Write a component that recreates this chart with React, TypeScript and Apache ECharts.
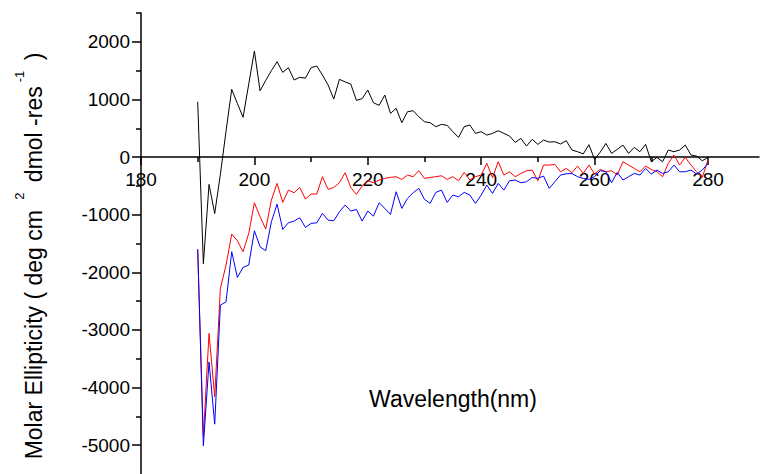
import { useEffect, useRef } from "react";
import * as echarts from "echarts";

// CD spectra sampled every 1 nm from 190 to 280 nm
const wavelengths: number[] = Array.from({ length: 91 }, (_, i) => 190 + i);

const blackTrace = [
  960, -1850, -475, -980, -300, 450, 1175, 930, 690, 1265,
  1840, 1150, 1330, 1500, 1655, 1470, 1550, 1337, 1383, 1370,
  1550, 1580, 1424, 1250, 1007, 1349, 1304, 1267, 984, 1013,
  1163, 943, 897, 1076, 758, 845, 596, 787, 804, 700,
  613, 596, 527, 567, 550, 440, 341, 527, 556, 411,
  440, 382, 411, 457, 411, 365, 255, 324, 191, 307,
  220, 295, 260, 266, 226, 284, 122, 93, 55, 215,
  -40, 85, 237, 64, 133, 208, 64, 168, 93, 220,
  -81, -6, -81, 122, 93, 122, 208, 35, 17, -64,
  -6,
];

const redTrace = [
  -1600, -4850, -3060, -4160, -2280, -1875, -1337, -1452, -1643, -1325,
  -793, -1036, -1250, -747, -457, -787, -573, -619, -527, -729,
  -642, -642, -341, -561, -527, -446, -272, -527, -648, -503,
  -411, -446, -399, -370, -353, -341, -388, -312, -341, -237,
  -370, -353, -341, -324, -388, -341, -411, -266, -399, -341,
  -312, -110, -359, -81, -312, -255, -341, -284, -237, -226,
  -411, -139, -139, -127, -255, -197, -272, -156, -284, -139,
  -295, -214, -255, -237, -312, -81, -139, -197, -255, -156,
  -214, -255, -341, -110, 35, -139, -6, -139, -255, -353,
  -52,
];

const blueTrace = [
  -1603, -5010, -3554, -4635, -2570, -2512, -1643, -2089, -1915, -1875,
  -1279, -1557, -1626, -1123, -816, -1256, -1140, -1111, -1053, -1221,
  -1152, -1140, -978, -1094, -1105, -949, -833, -937, -909, -1111,
  -937, -1024, -793, -891, -995, -602, -891, -718, -619, -544,
  -735, -804, -613, -573, -787, -660, -689, -613, -660, -804,
  -660, -486, -631, -457, -573, -411, -399, -446, -428, -353,
  -370, -330, -544, -428, -312, -290, -284, -341, -370, -388,
  -341, -237, -255, -446, -266, -399, -341, -284, -312, -197,
  -295, -226, -284, -255, -139, -255, -255, -226, -295, -226,
  -110,
];

const xMajorTicks = [180, 200, 220, 240, 260, 280];
const xMinorTicks = [190, 210, 230, 250, 270];
const yMajorTicks = [-5000, -4000, -3000, -2000, -1000, 0, 1000, 2000];
const yMinorTicks = [-4500, -3500, -2500, -1500, -500, 500, 1500, 2500];

const X_MIN = 180;
const X_MAX = 289;
const Y_MIN = -5500;
const Y_MAX = 2500;

const WIDTH = 760;
const HEIGHT = 474;
const GRID_LEFT = 141;
const GRID_TOP = 13;

const FONT = "'Liberation Sans', Arial, Helvetica, sans-serif";

const toPairs = (values: number[]) => values.map((v, i) => [wavelengths[i], v]);

export default function App() {
  const ref = useRef<HTMLDivElement>(null);

  useEffect(() => {
    if (!ref.current) return;
    const chart = echarts.init(ref.current, null, { renderer: "svg" });

    const axisColor = "#000";
    // the wavelength axis sits on the zero line: lift it from the grid bottom
    const plotHeight = HEIGHT - GRID_TOP;
    const zeroY = GRID_TOP + (plotHeight * Y_MAX) / (Y_MAX - Y_MIN);
    const xOffset = -(HEIGHT - zeroY);

    const option: any = {
      animation: false,
      backgroundColor: "#ffffff",
      grid: {
        left: GRID_LEFT,
        right: 1,
        top: GRID_TOP,
        bottom: 0,
        containLabel: false,
        outerBoundsMode: "none",
      },
      xAxis: [
        {
          type: "value",
          min: X_MIN,
          max: X_MAX,
          position: "bottom",
          offset: xOffset,
          axisLine: { show: true, onZero: false, lineStyle: { color: axisColor, width: 1.5 } },
          axisTick: {
            show: true,
            inside: false,
            length: 8,
            customValues: xMajorTicks,
            lineStyle: { color: axisColor, width: 1.5 },
          },
          axisLabel: {
            show: true,
            customValues: xMajorTicks,
            margin: 13,
            fontSize: 19,
            fontFamily: FONT,
            color: "#000",
            formatter: (v: number) => String(v),
          },
          splitLine: { show: false },
        },
        {
          type: "value",
          min: X_MIN,
          max: X_MAX,
          position: "bottom",
          offset: xOffset,
          axisLine: { show: false, onZero: false },
          axisTick: {
            show: true,
            inside: false,
            length: 5,
            customValues: xMinorTicks,
            lineStyle: { color: axisColor, width: 1.5 },
          },
          axisLabel: { show: false },
          splitLine: { show: false },
        },
      ],
      yAxis: [
        {
          type: "value",
          min: Y_MIN,
          max: Y_MAX,
          position: "left",
          axisLine: { show: true, onZero: false, lineStyle: { color: axisColor, width: 1.5 } },
          axisTick: {
            show: true,
            inside: false,
            length: 9,
            customValues: yMajorTicks,
            lineStyle: { color: axisColor, width: 1.5 },
          },
          axisLabel: {
            show: true,
            customValues: yMajorTicks,
            margin: 11,
            fontSize: 19,
            fontFamily: FONT,
            color: "#000",
            formatter: (v: number) => String(v),
          },
          splitLine: { show: false },
        },
        {
          type: "value",
          min: Y_MIN,
          max: Y_MAX,
          position: "left",
          axisLine: { show: false, onZero: false },
          axisTick: {
            show: true,
            inside: false,
            length: 5,
            customValues: yMinorTicks,
            lineStyle: { color: axisColor, width: 1.5 },
          },
          axisLabel: { show: false },
          splitLine: { show: false },
        },
      ],
      series: [
        {
          name: "trace 1",
          type: "line",
          data: toPairs(blackTrace),
          showSymbol: false,
          lineStyle: { color: "#000000", width: 1 },
          z: 3,
        },
        {
          name: "trace 2",
          type: "line",
          data: toPairs(redTrace),
          showSymbol: false,
          lineStyle: { color: "#ff0000", width: 1 },
          z: 3,
        },
        {
          name: "trace 3",
          type: "line",
          data: toPairs(blueTrace),
          showSymbol: false,
          lineStyle: { color: "#0000ff", width: 1 },
          z: 3,
        },
      ],
      graphic: [
        {
          type: "text",
          x: 453,
          y: 399,
          style: {
            text: "Wavelength(nm)",
            fontSize: 23,
            fontFamily: FONT,
            fill: "#000",
            align: "center",
            verticalAlign: "middle",
          },
        },
        {
          type: "text",
          x: 29,
          y: 256,
          rotation: Math.PI / 2,
          style: {
            text: "{m|Molar Ellipticity ( deg cm }{sup|2}{m| dmol -res}{sup|-1}{m| )}",
            fontFamily: FONT,
            fill: "#000",
            align: "center",
            verticalAlign: "middle",
            rich: {
              m: {
                fontSize: 23,
                fontFamily: FONT,
                fill: "#000",
                lineHeight: 33,
                verticalAlign: "bottom",
              },
              sup: {
                fontSize: 13,
                fontFamily: FONT,
                fill: "#000",
                lineHeight: 13,
                verticalAlign: "top",
                padding: [0, 4, 0, 4],
              },
            },
          },
        },
      ],
    };

    chart.setOption(option);
    return () => chart.dispose();
  }, []);

  return (
    <div
      ref={ref}
      style={{ position: "fixed", left: 0, top: 0, width: WIDTH, height: HEIGHT, background: "#fff" }}
    />
  );
}
